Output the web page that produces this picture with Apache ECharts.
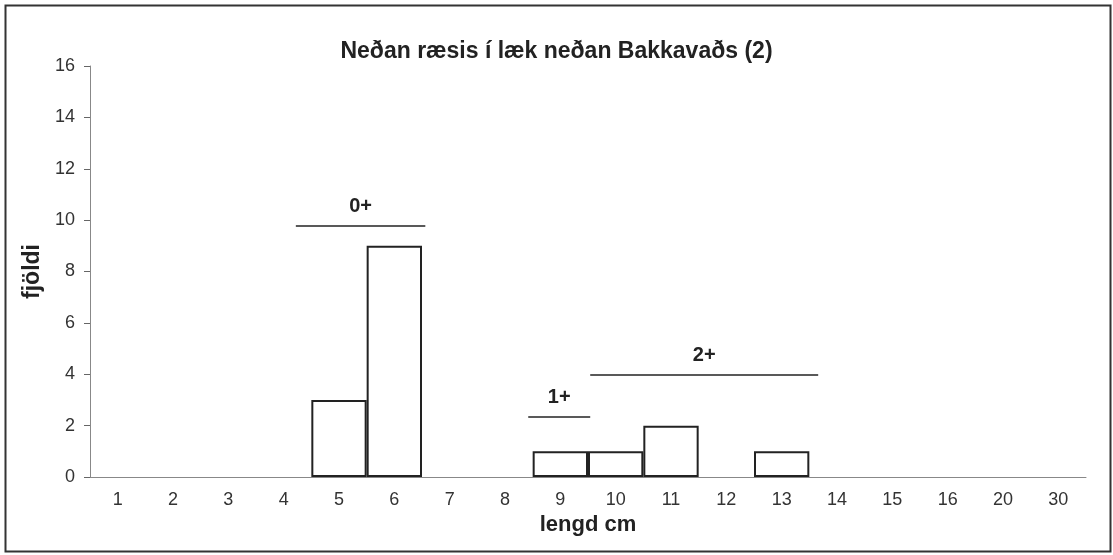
<!DOCTYPE html>
<html>
<head>
<meta charset="utf-8">
<script src="https://cdn.jsdelivr.net/npm/echarts@6/dist/echarts.min.js"></script>
<style>
  html, body { margin: 0; padding: 0; background: #fff; }
  #chart { width: 1113px; height: 555px; }
</style>
</head>
<body>
<div id="chart"></div>
<script>
// lengdarflokkar (cm) og fjöldi
var lengths = ['1', '2', '3', '4', '5', '6', '7', '8', '9', '10', '11', '12', '13', '14', '15', '16', '20', '30']
var counts = [0, 0, 0, 0, 3, 9, 0, 0, 1, 1, 2, 0, 1, 0, 0, 0, 0, 0]

// aldurshópar: lína frá-til (í flokkabilum) og hæð
var ageGroups = ['0+', '1+', '2+']
var ageFrom = [3.72, 7.92, 9.04]
var ageTo = [6.06, 9.04, 13.16]
var ageLevel = [9.8, 2.35, 4.0]

var chart = echarts.init(document.getElementById('chart'))
var font = 'Liberation Sans, Arial, sans-serif'

var markData = ageGroups.map(function (g, i) {
  return [
    { coord: [ageFrom[i], ageLevel[i]], name: g },
    { coord: [ageTo[i], ageLevel[i]] }
  ]
})

// engar súlur þar sem fjöldi er 0
var barData = counts.map(function (v) { return v === 0 ? '-' : v })

var option = {
  animation: false,
  backgroundColor: '#fff',
  title: {
    text: 'Neðan ræsis í læk neðan Bakkavaðs (2)',
    left: 'center',
    top: 35,
    textStyle: { fontFamily: font, fontSize: 23, fontWeight: 'bold', color: '#222' }
  },
  graphic: [{
    type: 'rect',
    shape: { x: 5.5, y: 5.5, width: 1105, height: 546 },
    style: { fill: 'none', stroke: '#333', lineWidth: 2 },
    silent: true
  }],
  grid: { left: 90, right: 27, top: 66, bottom: 78 },
  xAxis: [{
    type: 'category',
    data: lengths,
    name: 'lengd cm',
    nameLocation: 'middle',
    nameGap: 36,
    nameTextStyle: { fontFamily: font, fontSize: 22, fontWeight: 'bold', color: '#222' },
    axisLine: { lineStyle: { color: '#888', width: 1 } },
    axisTick: { alignWithLabel: false, length: 6, lineStyle: { color: '#666' } },
    axisLabel: { fontFamily: font, fontSize: 18, color: '#333', margin: 14 }
  }, {
    type: 'value',
    min: 0,
    max: 18,
    show: false
  }],
  yAxis: {
    type: 'value',
    min: 0,
    max: 16,
    interval: 2,
    name: 'fjöldi',
    nameLocation: 'middle',
    nameGap: 43,
    nameTextStyle: { fontFamily: font, fontSize: 23, fontWeight: 'bold', color: '#222' },
    axisLine: { show: true, lineStyle: { color: '#888' } },
    axisTick: { show: true, length: 6, lineStyle: { color: '#666' } },
    axisLabel: { fontFamily: font, fontSize: 18, color: '#333', margin: 15 },
    splitLine: { show: false }
  },
  series: [{
    type: 'bar',
    data: barData,
    barCategoryGap: '0%',
    itemStyle: { color: '#fff', borderColor: '#222', borderWidth: 2 }
  }, {
    type: 'line',
    xAxisIndex: 1,
    data: [],
    silent: true,
    markLine: {
      symbol: 'none',
      silent: true,
      lineStyle: { color: '#222', width: 1.5, type: 'solid' },
      label: {
        show: true,
        position: 'insideMiddleTop',
        formatter: '{b}',
        distance: 9,
        fontFamily: font,
        fontSize: 20,
        fontWeight: 'bold',
        color: '#222'
      },
      data: markData
    }
  }]
}

option && chart.setOption(option)
</script>
</body>
</html>
